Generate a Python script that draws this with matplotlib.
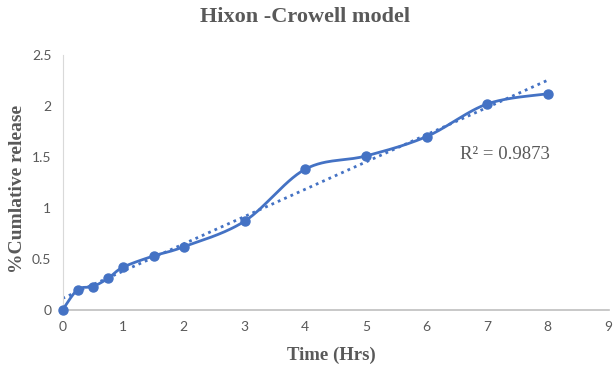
import numpy as np
import matplotlib.pyplot as plt

time_hrs = [0, 0.25, 0.5, 0.75, 1, 1.5, 2, 3, 4, 5, 6, 7, 8]
cum_release = [0, 0.20, 0.23, 0.31, 0.42, 0.53, 0.62, 0.87, 1.38, 1.51, 1.70, 2.02, 2.12]
x_ticks = list(range(0, 10))
y_ticks = [0, 0.5, 1, 1.5, 2, 2.5]
y_tick_labels = ['0', '0.5', '1', '1.5', '2', '2.5']

blue = '#4472C4'
grey = '#595959'


def smooth_curve(x, y, n=30):
    # catmull-rom style smoothing like excel's smoothed line
    x = np.asarray(x, float)
    y = np.asarray(y, float)
    px, py = [], []
    for i in range(len(x) - 1):
        x0, y0 = (x[i - 1], y[i - 1]) if i > 0 else (x[i], y[i])
        x3, y3 = (x[i + 2], y[i + 2]) if i + 2 < len(x) else (x[i + 1], y[i + 1])
        x1, y1, x2, y2 = x[i], y[i], x[i + 1], y[i + 1]
        c1x = x1 + (x2 - x0) / 6
        c1y = y1 + (y2 - y0) / 6
        c2x = x2 - (x3 - x1) / 6
        c2y = y2 - (y3 - y1) / 6
        t = np.linspace(0, 1, n)
        px.extend((1 - t) ** 3 * x1 + 3 * (1 - t) ** 2 * t * c1x + 3 * (1 - t) * t ** 2 * c2x + t ** 3 * x2)
        py.extend((1 - t) ** 3 * y1 + 3 * (1 - t) ** 2 * t * c1y + 3 * (1 - t) * t ** 2 * c2y + t ** 3 * y2)
    return px, py


fig = plt.figure(figsize=(6.14, 3.70), dpi=100)
ax = fig.add_axes([62.5 / 614, 60 / 370, 546 / 614, 255 / 370])

sx, sy = smooth_curve(time_hrs, cum_release)
ax.plot(sx, sy, color=blue, lw=2, zorder=3)
ax.plot(time_hrs, cum_release, 'o', color=blue, ms=6.5, zorder=4, clip_on=False)

# linear trendline
slope, intercept = np.polyfit(time_hrs, cum_release, 1)
tx = np.array([0, 8])
ax.plot(tx, slope * tx + intercept, color=blue, lw=2, ls=(0, (1, 1.5)), zorder=2)

ax.text(6.55, 1.52, 'R² = 0.9873', fontsize=13.5, color=grey, family='Liberation Serif',
        ha='left', va='center')

ax.set_xlim(0, 9)
ax.set_ylim(0, 2.5)
ax.set_xticks(x_ticks)
ax.set_yticks(y_ticks)
ax.set_yticklabels(y_tick_labels)
ax.tick_params(length=0, labelsize=10, labelcolor=grey, pad=8)
for lab in ax.get_xticklabels() + ax.get_yticklabels():
    lab.set_family('Lato')

for s in ['top', 'right']:
    ax.spines[s].set_visible(False)
ax.spines['bottom'].set_color('#bfbfbf')
ax.spines['left'].set_color('#d9d9d9')
ax.spines['bottom'].set_linewidth(1.2)

fig.text(0.497, 0.953, 'Hixon -Crowell model', ha='center', va='center', fontsize=16,
         fontweight='bold', color=grey, family='Liberation Serif')
fig.text(0.54, 0.04, 'Time (Hrs)', ha='center', va='center', fontsize=13.5,
         fontweight='bold', color=grey, family='Liberation Serif')
fig.text(0.029, 0.49, '%Cumlative release', ha='center', va='center', fontsize=14,
         fontweight='bold', color=grey, family='Liberation Serif', rotation=90)

fig.savefig('out.png', dpi=100)
